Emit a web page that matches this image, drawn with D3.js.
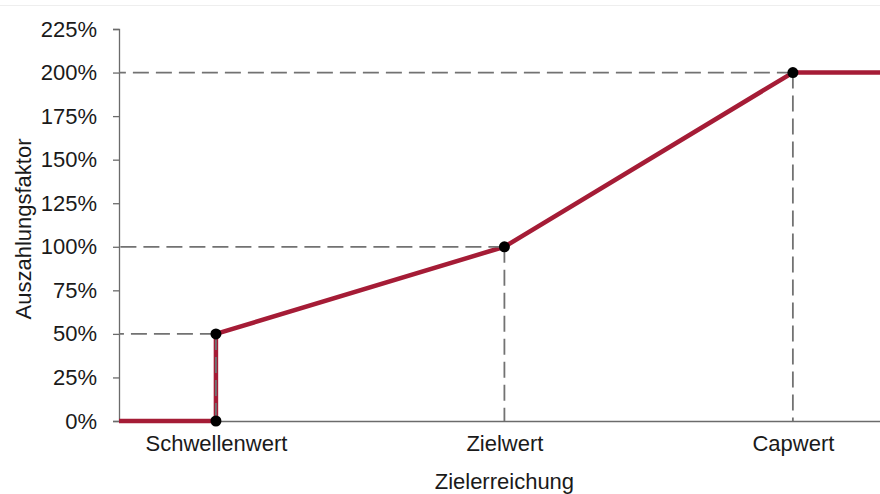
<!DOCTYPE html>
<html>
<head>
<meta charset="utf-8">
<script src="https://cdn.jsdelivr.net/npm/d3@7"></script>
<style>
  body { margin: 0; background: #fff; }
  svg { display: block; font-family: "Liberation Sans", Arial, sans-serif; }
</style>
</head>
<body>
<svg id="chart" width="880" height="494"></svg>
<script>
// Data
const categories = ["Schwellenwert", "Zielwert", "Capwert"];
const categoryX = [1, 2, 3];
const payout = [0.5, 1.0, 2.0];
const yTicks = [0, 0.25, 0.5, 0.75, 1, 1.25, 1.5, 1.75, 2, 2.25];
const xMin = 0.664, xMax = 3.302;
const lineX = [xMin, 1, 1, 2, 3, xMax];
const lineY = [0, 0, 0.5, 1.0, 2.0, 2.0];

const svg = d3.select("#chart");
const axisColor = "#6b6b6b";
const guideColor = "#727272";
const lineColor = "#a51c36";
const textColor = "#1a1a1a";
const fontSize = "22px";

const x = d3.scaleLinear().domain([xMin, xMax]).range([119, 880]);
const y = d3.scaleLinear().domain([0, 2.25]).range([421, 29]);

// faint top border
svg.append("line")
    .attr("x1", 0).attr("x2", 880)
    .attr("y1", 5.5).attr("y2", 5.5)
    .attr("stroke", "#eeeeee");

// Y axis
const yAxis = svg.append("g")
    .attr("transform", `translate(${x(xMin)},0)`)
    .call(d3.axisLeft(y).tickValues(yTicks).tickSize(6).tickPadding(16)
        .tickFormat(d => Math.round(d * 100) + "%"));
yAxis.select(".domain").attr("stroke", axisColor).attr("stroke-width", 1.3);
yAxis.selectAll(".tick line").attr("stroke", axisColor).attr("stroke-width", 1.3);
yAxis.selectAll(".tick text")
    .attr("fill", textColor)
    .style("font-size", fontSize)
    .style("font-family", "'Liberation Sans', Arial, sans-serif");

// X axis
const xAxis = svg.append("g")
    .attr("transform", `translate(0,${y(0)})`)
    .call(d3.axisBottom(x).tickValues(categoryX).tickSize(0).tickPadding(14)
        .tickFormat((d, i) => categories[i]));
xAxis.select(".domain").attr("stroke", axisColor).attr("stroke-width", 1.3);
xAxis.selectAll(".tick text")
    .attr("fill", textColor)
    .style("font-size", fontSize)
    .style("font-family", "'Liberation Sans', Arial, sans-serif");

// Axis titles
svg.append("text")
    .attr("transform", `translate(31,${(y(0) + y(2.25)) / 2 + 4}) rotate(-90)`)
    .attr("text-anchor", "middle")
    .attr("fill", textColor)
    .style("font-size", fontSize)
    .text("Auszahlungsfaktor");

svg.append("text")
    .attr("x", x(2))
    .attr("y", 489)
    .attr("text-anchor", "middle")
    .attr("fill", textColor)
    .style("font-size", fontSize)
    .text("Zielerreichung");

// Payout line
const pts = lineX.map((d, i) => [d, lineY[i]]);
svg.append("path")
    .datum(pts)
    .attr("fill", "none")
    .attr("stroke", lineColor)
    .attr("stroke-width", 4.5)
    .attr("stroke-linejoin", "round")
    .attr("d", d3.line().x(d => x(d[0])).y(d => y(d[1])));

// Guide lines (drawn from the point toward the axes)
const guides = svg.append("g")
    .attr("stroke", guideColor)
    .attr("stroke-width", 1.8)
    .attr("stroke-dasharray", "16,7");
categoryX.forEach((cx, i) => {
    guides.append("line")
        .attr("x1", x(cx)).attr("x2", x(xMin))
        .attr("y1", y(payout[i])).attr("y2", y(payout[i]));
    guides.append("line")
        .attr("x1", x(cx)).attr("x2", x(cx))
        .attr("y1", y(payout[i])).attr("y2", y(0));
});

// Markers
const markers = [[1, 0], [1, 0.5], [2, 1.0], [3, 2.0]];
svg.append("g").selectAll("circle")
    .data(markers)
    .join("circle")
    .attr("cx", d => x(d[0]))
    .attr("cy", d => y(d[1]))
    .attr("r", 5.5)
    .attr("fill", "#000");
</script>
</body>
</html>
